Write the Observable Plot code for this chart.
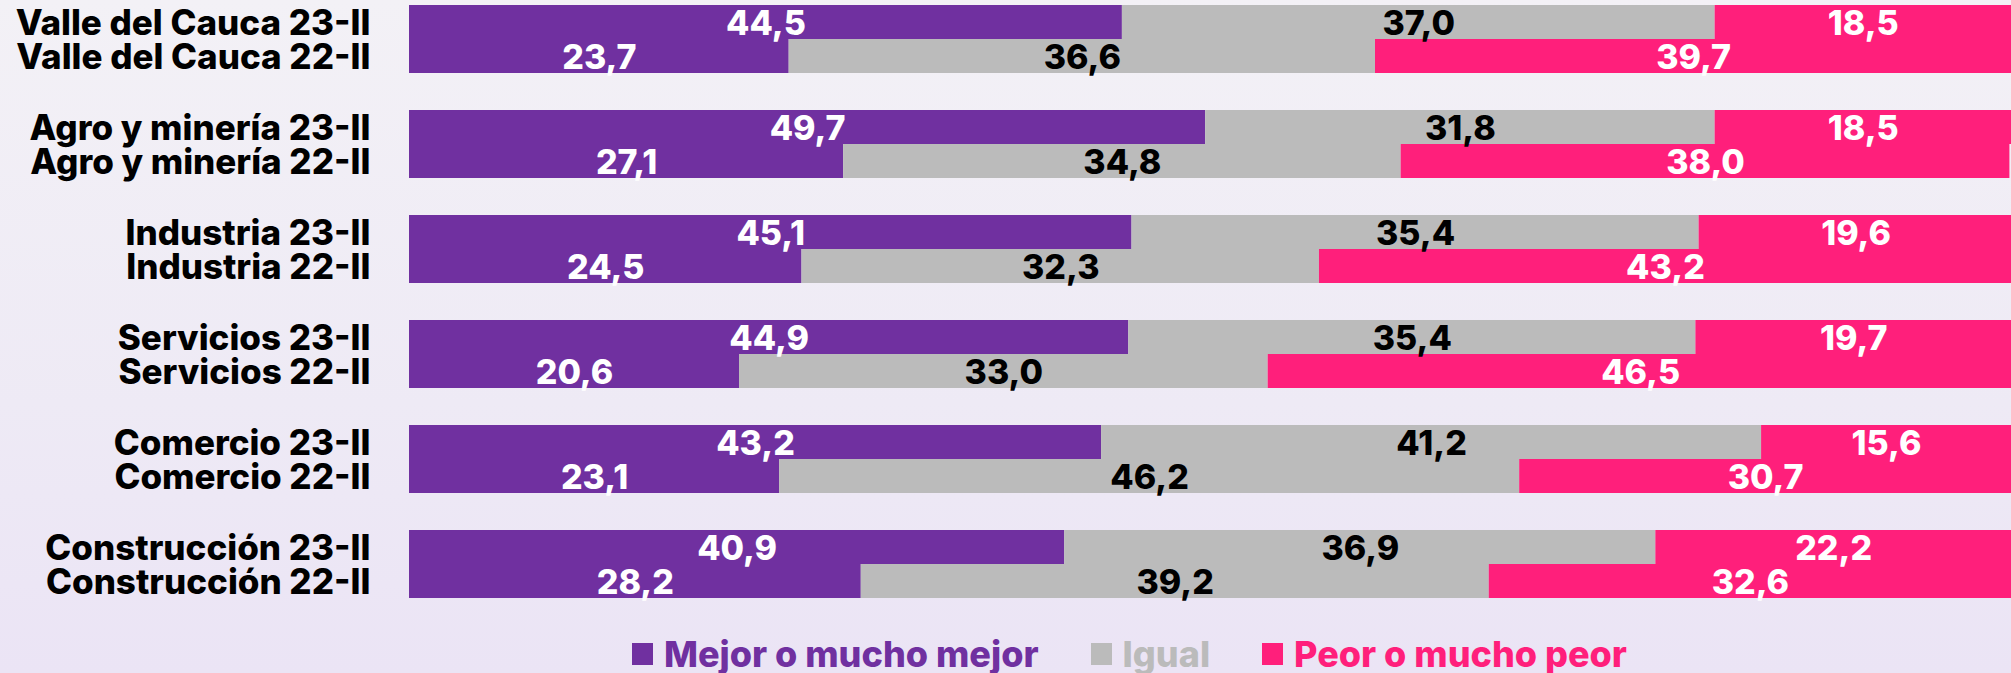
<!DOCTYPE html>
<html>
<head>
<meta charset="utf-8">
<script src="https://cdn.jsdelivr.net/npm/d3@7"></script>
<script src="https://cdn.jsdelivr.net/npm/@observablehq/plot@0.6"></script>
<style>
  html, body { margin: 0; padding: 0; }
  body {
    width: 2011px; height: 673px; overflow: hidden;
    background: linear-gradient(to bottom, #F3F1F6 0%, #EEEAF5 60%, #EBE4F5 100%);
    font-family: Inter, "Noto Sans", sans-serif;
  }
  #chart svg { display: block; background: transparent; }
  #legend {
    height: 48px; display: flex; align-items: center;
    padding-left: 632px; box-sizing: border-box; padding-top: 10px;
    font-family: Inter, sans-serif; font-weight: 800; font-size: 36px; letter-spacing: 0px;
  }
  .item { display: flex; align-items: center; margin-right: 52px; }
  .sw { width: 21px; height: 22px; margin-right: 11px; }
</style>
</head>
<body>
<div id="chart"></div>
<div id="legend"></div>
<script>
const groups = ["Valle del Cauca", "Agro y minería", "Industria", "Servicios", "Comercio", "Construcción"];
const periods = ["23-II", "22-II"];
const categories = ["Mejor o mucho mejor", "Igual", "Peor o mucho peor"];
const colors = ["#7030A0", "#BBBBBB", "#FF1F7B"];
const labelColors = ["#FFFFFF", "#000000", "#FFFFFF"];

// values per group, for each period and category
const mejor23 = [44.5, 49.7, 45.1, 44.9, 43.2, 40.9];
const igual23 = [37.0, 31.8, 35.4, 35.4, 41.2, 36.9];
const peor23  = [18.5, 18.5, 19.6, 19.7, 15.6, 22.2];
const mejor22 = [23.7, 27.1, 24.5, 20.6, 23.1, 28.2];
const igual22 = [36.6, 34.8, 32.3, 33.0, 46.2, 39.2];
const peor22  = [39.7, 38.0, 43.2, 46.5, 30.7, 32.6];

const series = {
  "23-II": [mejor23, igual23, peor23],
  "22-II": [mejor22, igual22, peor22]
};

const data = [];
groups.forEach((g, gi) => {
  periods.forEach(p => {
    categories.forEach((c, ci) => {
      data.push({group: g, period: p, category: c, value: series[p][ci][gi]});
    });
  });
});
const rows = [];
groups.forEach(g => periods.forEach(p => rows.push({group: g, period: p, label: `${g} ${p}`})));

const fmt = v => v.toFixed(1).replace(".", ",");

const plot = Plot.plot({
  width: 2011,
  height: 625,
  marginLeft: 409,
  marginRight: 0,
  marginTop: 3,
  marginBottom: 25,
  style: {background: "transparent", fontFamily: "Inter, sans-serif"},
  x: {domain: [0, 100], axis: null},
  y: {domain: periods, padding: 0, axis: null},
  fy: {domain: groups, paddingInner: 0.341, paddingOuter: 0, axis: null, label: null},
  color: {domain: categories, range: colors},
  marks: [
    Plot.barX(data, Plot.stackX({
      x: "value", y: "period", fy: "group", fill: "category",
      order: categories
    })),
    Plot.text(data, Plot.stackX({
      x: "value", y: "period", fy: "group", z: "category",
      order: categories,
      text: d => fmt(d.value),
      fill: d => labelColors[categories.indexOf(d.category)],
      fontSize: 34, fontWeight: 800, dy: 2
    })),
    Plot.text(rows, {
      x: 0, y: "period", fy: "group", text: "label",
      textAnchor: "end", dx: -39, dy: 1,
      fontSize: 35, fontWeight: 800, fill: "#000"
    })
  ]
});
document.getElementById("chart").appendChild(plot);

const legend = document.getElementById("legend");
categories.forEach((c, i) => {
  const item = document.createElement("div");
  item.className = "item";
  const sw = document.createElement("div");
  sw.className = "sw";
  sw.style.background = colors[i];
  const t = document.createElement("span");
  t.textContent = c;
  t.style.color = colors[i];
  item.appendChild(sw);
  item.appendChild(t);
  legend.appendChild(item);
});
</script>
</body>
</html>
